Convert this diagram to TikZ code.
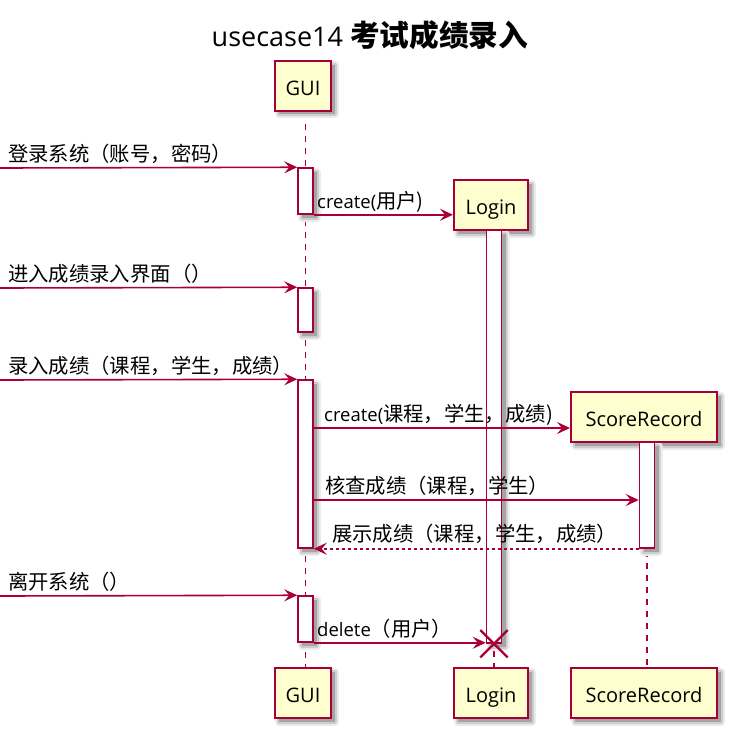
\documentclass[tikz,border=0pt]{standalone}
\usepackage{fontspec}
\setmainfont{Open Sans}
\newfontfamily\cjk[Scale=1.1]{Noto Sans CJK SC}
\usetikzlibrary{arrows.meta,shapes.misc}
\definecolor{umlred}{HTML}{A80036}
\definecolor{umlfill}{HTML}{FEFECE}
\definecolor{shadeA}{RGB}{236,236,236}
\definecolor{shadeB}{RGB}{205,205,205}
\definecolor{shadeC}{RGB}{165,165,165}
\pgfdeclarelayer{back}
\pgfsetlayers{back,main}
\tikzset{
  actor/.style={draw=umlred, fill=umlfill, line width=2pt, minimum height=50pt,
      inner sep=0pt, text height=19pt, text depth=0pt,
      font=\fontsize{20}{24}\selectfont},
  actbar/.style={draw=umlred, fill=white, line width=1.5pt, minimum width=15pt,
      inner sep=0pt},
  life/.style={draw=umlred, line width=1.5pt, dash pattern=on 6pt off 6pt},
  msg/.style={draw=umlred, line width=1.6pt,
      -{Stealth[length=13pt,width=12pt,inset=5pt]}},
  reply/.style={msg, dash pattern=on 3pt off 3pt},
  lbl/.style={anchor=base west, inner sep=0pt, font=\fontsize{18.5}{22}\selectfont},
  killmark/.style={cross out, draw=umlred, line width=2.4pt, minimum size=25pt, inner sep=0pt},
}
% soft grey shadow below-right of the box with corners (#1,#2) and (#3,#4),
% in picture units (y grows downwards)
\newcommand{\castshadow}[4]{%
  \fill[shadeA, rounded corners=4pt] (#1,#2) rectangle ($(#3,#4)+(8,8)$);
  \fill[shadeB, rounded corners=2pt] ($(#1,#2)+(2,2)$) rectangle ($(#3,#4)+(6,6)$);
  \fill[shadeC] ($(#1,#2)+(4,4)$) rectangle ($(#3,#4)+(4,4)$);
}
\usetikzlibrary{calc}
\begin{document}
\begin{tikzpicture}[x=1pt,y=-1pt]
\useasboundingbox (0,0) rectangle (733,732);

% shadows, drawn first so that boxes and bars cover them
\castshadow{275}{61}{331}{110}
\castshadow{275}{668}{331}{718}
\castshadow{454}{180}{528}{230}
\castshadow{454}{668}{528}{718}
\castshadow{571}{392}{717}{442}
\castshadow{571}{668}{717}{718}
\castshadow{298}{168}{313}{214}
\castshadow{298}{288}{313}{332}
\castshadow{298}{380}{313}{548}
\castshadow{298}{596}{313}{642}
\castshadow{486.5}{230}{501.5}{643}
\castshadow{639.5}{442}{654.5}{548}

% title
\node[anchor=base, inner sep=0pt, font=\fontsize{27}{30}\selectfont] (title) at (370,46.5)
  {usecase14 \textbf{\cjk 考试成绩录入}};

% participants, top and bottom
\node[actor, minimum width=56pt] (guiT) at (303,85.5) {GUI};
\node[actor, minimum width=56pt] (guiB) at (303,693) {GUI};
\node[actor, minimum width=74pt] (loginT) at (491,205) {Login};
\node[actor, minimum width=74pt] (loginB) at (491,693) {Login};
\node[actor, minimum width=146pt] (srT) at (644,417) {ScoreRecord};
\node[actor, minimum width=146pt] (srB) at (644,693) {ScoreRecord};

% activation bars
\node[actbar, minimum height=46pt] (a1) at (305.5,191) {};
\node[actbar, minimum height=44pt] (a2) at (305.5,310) {};
\node[actbar, minimum height=168pt] (a3) at (305.5,464) {};
\node[actbar, minimum height=46pt] (a4) at (305.5,619) {};
\node[actbar, minimum height=413pt] (lb) at (494,436.5) {};
\node[actbar, minimum height=106pt] (sb) at (647,495) {};

% lifelines
\begin{pgfonlayer}{back}
  \draw[life] (a1.center |- guiT.south) -- (a1.center |- guiB.north);
  \draw[life] (lb.center |- loginT.south) -- (lb.center |- loginB.north);
  \draw[life] (sb.center |- srT.south) -- (sb.center |- srB.north);
\end{pgfonlayer}

% message rows
\coordinate (in1) at (0,168);
\coordinate (in3) at (0,288);
\coordinate (in4) at (0,380);
\coordinate (y5) at (0,428);
\coordinate (y6) at (0,500);
\coordinate (in8) at (0,596);

% messages
\draw[msg] (in1) -- (a1.north west);
\node[lbl] (t1) at (8,161) {\cjk 登录系统（账号，密码）};

\draw[msg] (a1.south east) -- (a1.south east -| loginT.west);
\node[lbl] (t2) at (317,208) {create(\cjk{用户})};

\draw[msg] (in3) -- (a2.north west);
\node[lbl] (t3) at (8,281) {\cjk 进入成绩录入界面（）};

\draw[msg] (in4) -- (a3.north west);
\node[lbl] (t4) at (8,373) {\cjk 录入成绩（课程，学生，成绩）};

\draw[msg] (a3.east |- y5) -- (srT.west |- y5);
\node[lbl] (t5) at (324,421) {create(\cjk{课程，学生，成绩})};

\draw[msg] (a3.east |- y6) -- (sb.west |- y6);
\node[lbl] (t6) at (325,493) {\cjk 核查成绩（课程，学生）};

\draw[reply] (sb.south west) -- (a3.south east);
\node[lbl] (t7) at (332,541) {\cjk 展示成绩（课程，学生，成绩）};

\draw[msg] (in8) -- (a4.north west);
\node[lbl] (t8) at (8,589) {\cjk 离开系统（）};

\draw[msg] (a4.south east) -- (a4.south east -| lb.west);
\node[lbl] (t9) at (317,636) {delete\cjk{（用户）}};

% destruction of Login
\node[killmark] (kill) at (lb.south) {};
\end{tikzpicture}
\end{document}
